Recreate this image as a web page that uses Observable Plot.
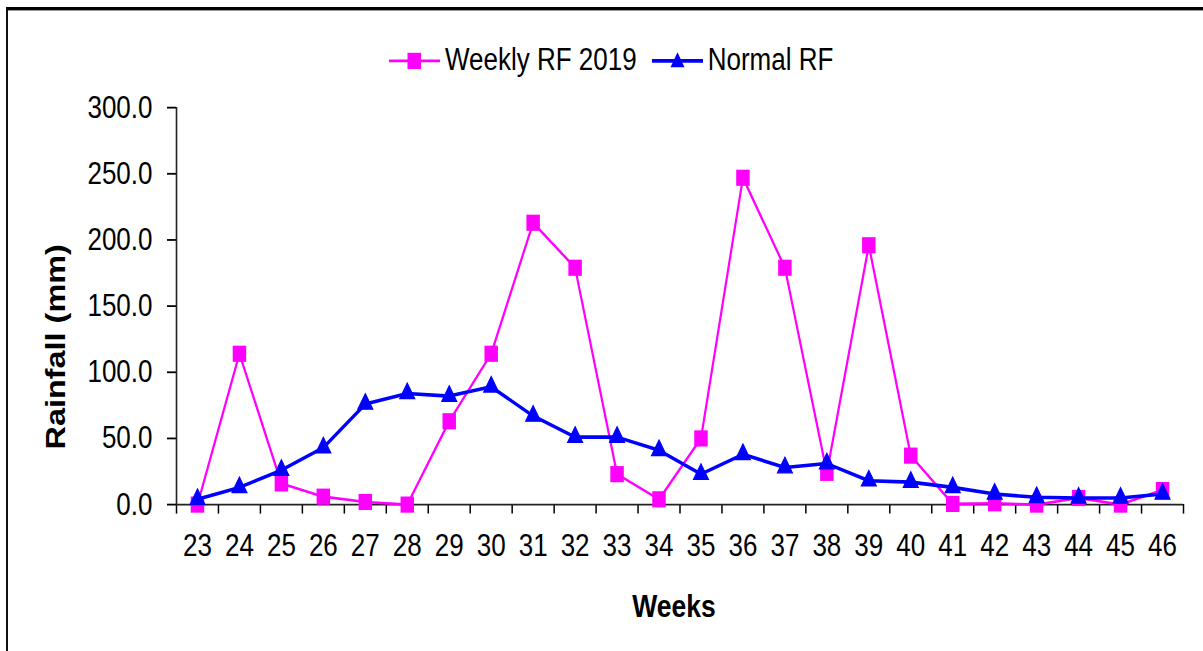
<!DOCTYPE html>
<html>
<head>
<meta charset="utf-8">
<script src="https://cdn.jsdelivr.net/npm/d3@7"></script>
<script src="https://cdn.jsdelivr.net/npm/@observablehq/plot@0.6"></script>
<style>
  html, body { margin: 0; padding: 0; background: #fff; overflow: hidden; }
  body { width: 1203px; height: 651px; position: relative; font-family: 'Liberation Sans', Arial, sans-serif; }
  #frame { position: absolute; left: 6px; top: 7px; width: 1197px; height: 660px;
           border-top: 3px solid #000; border-left: 2px solid #111; box-sizing: border-box; }
  #frame::after { content: ""; position: absolute; left: 0; right: 0; top: 0; height: 1px; background: #999; }
  #wrap { position: absolute; left: 0; top: 0; width: 1203px; height: 543px;
          transform: scaleY(1.2); transform-origin: 0 0; }
  #chart { position: absolute; left: 0; top: 0; }
  #legend { position: absolute; left: 389px; top: 50px; transform: translateY(-50%);
            display: flex; align-items: center; font-size: 26px; color: #000; white-space: nowrap; }
  #legend .item { display: flex; align-items: center; }
  #legend svg { display: block; }
  #legend .lab { margin-left: 5px; }
  #legend .item + .item { margin-left: 15px; }
  #ylabel { position: absolute; left: 56px; top: 289px; transform: translate(-50%, -50%) rotate(-90deg);
            font-weight: bold; font-size: 27px; white-space: nowrap; }
  #xlabel { position: absolute; left: 674px; top: 506px; transform: translate(-50%, -50%);
            font-weight: bold; font-size: 26.5px; white-space: nowrap; }
</style>
</head>
<body>
<div id="frame"></div>
<div id="wrap">
  <div id="chart"></div>
  <div id="legend"></div>
  <div id="ylabel">Rainfall (mm)</div>
  <div id="xlabel">Weeks</div>
</div>
<script>
// ---- data ----
const weeks = [23,24,25,26,27,28,29,30,31,32,33,34,35,36,37,38,39,40,41,42,43,44,45,46];
const weeklyRF2019 = [0,114,16,6,2,0,63,114,213,179,23,4,50,247,179,24,196,37,0.5,1,0,5,0,11];
const normalRF = [4,13,26,43,76,84,82,89,67,51,51,41,23,38,28,31,18,17,13,8,5.5,5,5,8];
const yTicks = [0,50,100,150,200,250,300];
const seriesNames = ["Weekly RF 2019", "Normal RF"];
const colors = ["#FF00FF", "#0000FF"];

const rf2019 = weeks.map((w, i) => ({week: w, rf: weeklyRF2019[i]}));
const rfNormal = weeks.map((w, i) => ({week: w, rf: normalRF[i]}));
const boundaries = [...weeks.map(w => w - 0.5), weeks[weeks.length - 1] + 0.5];

const chart = Plot.plot({
  width: 1203,
  height: 543,
  marginLeft: 176,
  marginRight: 20,
  marginTop: 89.2,
  marginBottom: 123,
  style: { fontFamily: "'Liberation Sans', Arial, sans-serif", color: "#000", background: "transparent", overflow: "visible" },
  x: { type: "linear", domain: [boundaries[0], boundaries[boundaries.length - 1]] },
  y: { domain: [0, 300] },
  marks: [
    Plot.axisY({ ticks: yTicks, tickFormat: d => d.toFixed(1), tickSize: 9, tickPadding: 15, fontSize: 26, label: null, strokeWidth: 1.5 }),
    Plot.axisX({ ticks: boundaries, tickFormat: () => "", tickSize: 8, label: null, strokeWidth: 1.5 }),
    Plot.axisX({ ticks: weeks, tickFormat: d => String(d), tickSize: 0, tickPadding: 24, fontSize: 26, label: null }),
    Plot.ruleY([0], { stroke: "#222", strokeWidth: 1.6 }),
    Plot.ruleX([boundaries[0]], { stroke: "#222", strokeWidth: 1.6 }),
    Plot.line(rf2019, { x: "week", y: "rf", stroke: colors[0], strokeWidth: 2.2 }),
    Plot.dot(rf2019, { x: "week", y: "rf", symbol: "square", r: 7.6, fill: colors[0] }),
    Plot.line(rfNormal, { x: "week", y: "rf", stroke: colors[1], strokeWidth: 3 }),
    Plot.dot(rfNormal, { x: "week", y: "rf", symbol: "triangle", r: 5.6, fill: colors[1], stroke: colors[1], strokeWidth: 1 })
  ]
});
document.getElementById("chart").appendChild(chart);

// ---- legend ----
const legend = document.getElementById("legend");
seriesNames.forEach((name, i) => {
  const item = document.createElement("div");
  item.className = "item";
  const marker = i === 0
    ? `<rect x="18.5" y="3.5" width="13.5" height="13.5" fill="${colors[i]}"/>`
    : `<path d="M25.5,3 L32.5,15.5 L18.5,15.5 Z" fill="${colors[i]}"/>`;
  item.innerHTML = `<svg width="51" height="20"><line x1="0" x2="51" y1="10.25" y2="10.25" stroke="${colors[i]}" stroke-width="${i === 0 ? 2.2 : 3}"/>${marker}</svg><span class="lab">${name}</span>`;
  legend.appendChild(item);
});
</script>
</body>
</html>
